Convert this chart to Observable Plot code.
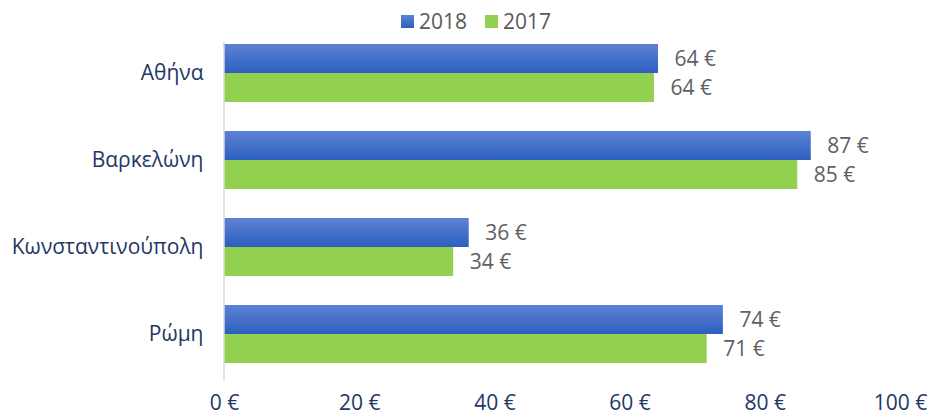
<!DOCTYPE html>
<html>
<head>
<meta charset="utf-8">
<script src="https://cdn.jsdelivr.net/npm/d3@7"></script>
<script src="https://cdn.jsdelivr.net/npm/@observablehq/plot@0.6"></script>
<style>
  body { margin: 0; background: #fff; }
  #wrap { position: relative; width: 932px; height: 419px; }
  #legend { position: absolute; top: 6px; left: 0; width: 932px; display: flex; justify-content: center; gap: 18px;
    font-family: "Open Sans", sans-serif; font-size: 21px; line-height: 30px; color: #595959; padding-left: 20px; box-sizing: border-box; }
  #legend span.item { display: flex; align-items: center; gap: 5px; }
  #legend span.sw { display: inline-block; width: 13px; height: 13px; }
</style>
</head>
<body>
<div id="wrap">
  <div id="legend"></div>
</div>
<script>
const cities = ["Αθήνα", "Βαρκελώνη", "Κωνσταντινούπολη", "Ρώμη"];
const series = ["2018", "2017"];
const values2018 = [64.2, 86.8, 36.2, 73.8];
const values2017 = [63.6, 84.8, 33.9, 71.4];
const xTicks = [0, 20, 40, 60, 80, 100];
const colors = ["url(#blueGrad)", "#92d050"];

const data = [];
cities.forEach((c, i) => {
  data.push({city: c, series: "2018", value: values2018[i]});
  data.push({city: c, series: "2017", value: values2017[i]});
});

const font = "'Open Sans', sans-serif";
const plot = Plot.plot({
  width: 932,
  height: 419,
  marginLeft: 224,
  marginRight: 32,
  marginTop: 29,
  marginBottom: 40,
  style: {fontFamily: font, fontSize: "21px", background: "white", overflow: "visible"},
  x: {domain: [0, 100], ticks: xTicks, tickFormat: d => `${d} €`, tickSize: 0, tickPadding: 32, label: null, axis: "bottom"},
  y: {domain: series, axis: null, padding: 0},
  fy: {domain: cities, paddingInner: 0.33, paddingOuter: 0.165, label: null, tickSize: 0, tickPadding: 21, axis: "left"},
  color: {domain: series, range: colors},
  facet: {data, y: "city"},
  marks: [
    Plot.barX(data, {x: "value", y: "series", fill: "series"}),
    Plot.text(data, {x: "value", y: "series", text: d => `${Math.round(d.value)} €`, dx: 16, textAnchor: "start", fill: "#5f6066", fontSize: 21})
  ]
});

const svg = d3.select(plot);
const defs = svg.insert("defs", ":first-child");
const g = defs.append("linearGradient").attr("id", "blueGrad").attr("x1", 0).attr("y1", 0).attr("x2", 0).attr("y2", 1);
g.append("stop").attr("offset", "0%").attr("stop-color", "#5d82d3");
g.append("stop").attr("offset", "100%").attr("stop-color", "#2d5fc0");
svg.selectAll("[aria-label='x-axis tick label']").attr("fill", "#1f3864");
svg.selectAll("[aria-label='fy-axis tick label']").attr("fill", "#1f3864");
const xs = plot.scale("x");
const fy = plot.scale("fy");
svg.append("line")
  .attr("x1", xs.apply(0)).attr("x2", xs.apply(0))
  .attr("y1", fy.range[0] + 13).attr("y2", fy.range[1] + 1)
  .attr("stroke", "#d9d9d9").attr("stroke-width", 1.5);

document.getElementById("wrap").appendChild(plot);

const legend = d3.select("#legend");
series.forEach((s, i) => {
  const it = legend.append("span").attr("class", "item");
  it.append("span").attr("class", "sw").style("background", i === 0 ? "linear-gradient(#5d82d3, #2d5fc0)" : colors[i]);
  it.append("span").text(s);
});
</script>
</body>
</html>
